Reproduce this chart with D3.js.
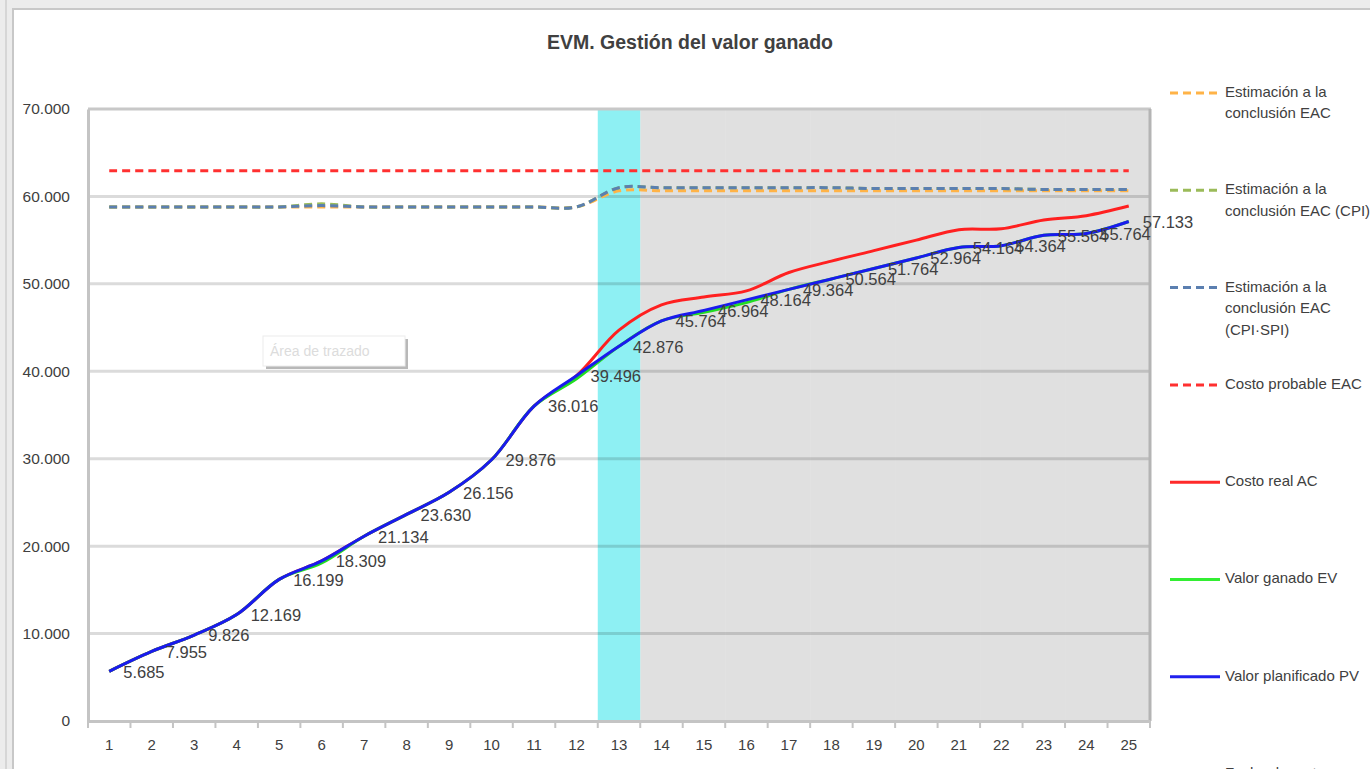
<!DOCTYPE html>
<html><head><meta charset="utf-8">
<script src="https://cdn.jsdelivr.net/npm/d3@7"></script>
<style>html,body{margin:0;padding:0;background:#f0f0f0;}svg{display:block;}</style>
</head><body><svg id="c" width="1370" height="769"></svg>
<script>
// ---------- data ----------
const categories = ["1","2","3","4","5","6","7","8","9","10","11","12","13","14","15","16","17","18","19","20","21","22","23","24","25"];
const pv  = [5685,7955,9826,12169,16199,18309,21134,23630,26156,29876,36016,39496,42876,45764,46964,48164,49364,50564,51764,52964,54164,54364,55564,55764,57133];
const ev  = [5685,7955,9826,12169,16199,18080,21134,23630,26156,29876,36016,39150,42876,45764,46750,47850,49364,50564,51764,52964,54164,54364,55564,55764,57133];
const ac  = [5685,7955,9826,12169,16199,18309,21134,23630,26156,29876,36016,39496,44700,47600,48500,49200,51300,52600,53800,55000,56200,56300,57300,57800,58900];
const eac       = [58800,58800,58800,58800,58800,58800,58800,58800,58800,58800,58800,58800,60640,60640,60640,60640,60640,60640,60640,60640,60640,60640,60640,60640,60640];
const eacCpi    = [58800,58800,58800,58800,58800,59150,58800,58800,58800,58800,58800,58800,61000,61000,61000,61000,61000,61000,60900,60900,60900,60900,60800,60800,60800];
const eacCpiSpi = [58800,58800,58800,58800,58800,58950,58800,58800,58800,58800,58800,58800,61000,61000,61000,61000,61000,61000,60900,60900,60900,60900,60800,60800,60800];
const costoProbable = [62930,62930,62930,62930,62930,62930,62930,62930,62930,62930,62930,62930,62930,62930,62930,62930,62930,62930,62930,62930,62930,62930,62930,62930,62930];
const fechaCorte = ["13"];
const proyeccion = ["14","15","16","17","18","19","20","21","22","23","24","25"];
const yTicks = [0,10000,20000,30000,40000,50000,60000,70000];
const yTickLabels = ["0","10.000","20.000","30.000","40.000","50.000","60.000","70.000"];
const title = "EVM. Gestión del valor ganado";
const legendItems = [
  {lines:["Estimación a la","conclusión EAC"], color:"#ffb347", dash:true},
  {lines:["Estimación a la","conclusión EAC (CPI)"], color:"#9bbb59", dash:true},
  {lines:["Estimación a la","conclusión EAC","(CPI·SPI)"], color:"#5b7fb0", dash:true},
  {lines:["Costo probable EAC"], color:"#ff3030", dash:true},
  {lines:["Costo real AC"], color:"#ff2a2a", dash:false},
  {lines:["Valor ganado EV"], color:"#33ee33", dash:false},
  {lines:["Valor planificado PV"], color:"#2020ee", dash:false},
  {lines:["Fecha de corte"], color:"none", dash:false}
];
const seriesDefs = [
  {values:eac, color:"#ffb347", dash:"8,5"},
  {values:eacCpi, color:"#9bbb59", dash:"8,5"},
  {values:eacCpiSpi, color:"#5b7fb0", dash:"8,5"},
  {values:costoProbable, color:"#ff3030", dash:"8,5"},
  {values:ac, color:"#ff2020", dash:null},
  {values:ev, color:"#22dd22", dash:null},
  {values:pv, color:"#1a1aee", dash:null}
];

// ---------- layout ----------
const svg = d3.select("#c");
const font = "'Liberation Sans', Arial, sans-serif";
const txt = "#404040";
const P = {l:88, r:1150, t:109, b:721};

// chart frame
svg.append("rect").attr("x",0).attr("y",0).attr("width",1370).attr("height",769).attr("fill","#ececec");
svg.append("rect").attr("x",13).attr("y",9).attr("width",1400).attr("height",800)
  .attr("fill","#fff").attr("stroke","#c8c8c8").attr("stroke-width",2);
svg.append("line").attr("x1",6).attr("x2",6).attr("y1",0).attr("y2",769).attr("stroke","#d6d6d6").attr("stroke-width",2);

const x = d3.scaleBand().domain(categories).range([P.l,P.r]).padding(0);
const xc = d => x(d) + x.bandwidth()/2;
const y = d3.scaleLinear().domain([0,70000]).range([P.b,P.t]);

// bands (column series)
svg.append("g").selectAll("rect").data(proyeccion).join("rect")
  .attr("x",d=>x(d)).attr("width",x.bandwidth()+0.5).attr("y",y(70000)).attr("height",y(0)-y(70000))
  .attr("fill","#e0e0e0");
svg.append("g").selectAll("rect").data(fechaCorte).join("rect")
  .attr("x",d=>x(d)).attr("width",x.bandwidth()).attr("y",y(70000)).attr("height",y(0)-y(70000))
  .attr("fill","#8ef0f3");

// gridlines
svg.append("g").selectAll("line").data(yTicks.slice(1,-1)).join("line")
  .attr("x1",P.l).attr("x2",P.r).attr("y1",d=>y(d)).attr("y2",d=>y(d))
  .attr("stroke","rgba(0,0,0,0.14)").attr("stroke-width",3);

// plot border: top & right
svg.append("line").attr("x1",P.l).attr("x2",P.r+1).attr("y1",P.t).attr("y2",P.t).attr("stroke","#c8c8c8").attr("stroke-width",3);
svg.append("line").attr("x1",P.r).attr("x2",P.r).attr("y1",P.t).attr("y2",P.b).attr("stroke","#b4b4b4").attr("stroke-width",3);

// y axis
const yAxis = d3.axisLeft(y).tickValues(yTicks).tickSize(0).tickPadding(18)
  .tickFormat((d,i)=>yTickLabels[i]);
const gy = svg.append("g").attr("transform",`translate(${P.l},0)`).call(yAxis);
gy.select(".domain").attr("stroke","#c4c4c4").attr("stroke-width",3);
gy.selectAll("text").attr("font-family",font).attr("font-size",15.5).attr("fill",txt);

// x axis
const xAxis = d3.axisBottom(x).tickSize(0).tickPadding(18);
const gx = svg.append("g").attr("transform",`translate(0,${P.b})`).call(xAxis);
gx.select(".domain").attr("stroke","#c4c4c4").attr("stroke-width",3);
gx.selectAll("text").attr("font-family",font).attr("font-size",15).attr("fill",txt);
// tick marks at category boundaries
svg.append("g").selectAll("line").data(categories.concat(["end"])).join("line")
  .attr("x1",d=>d==="end"?P.r:x(d)).attr("x2",d=>d==="end"?P.r:x(d))
  .attr("y1",P.b).attr("y2",P.b+7).attr("stroke","#c4c4c4").attr("stroke-width",2);

// series
const line = vals => d3.line().x((d,i)=>xc(categories[i])).y(d=>y(d)).curve(d3.curveCatmullRom.alpha(0.5))(vals);
seriesDefs.forEach(s=>{
  svg.append("path").attr("d",line(s.values)).attr("fill","none")
    .attr("stroke",s.color).attr("stroke-width",3)
    .attr("stroke-dasharray",s.dash).attr("stroke-linejoin","round");
});

// data labels (PV)
svg.append("g").selectAll("text").data(pv).join("text")
  .attr("x",(d,i)=>xc(categories[i])+14).attr("y",d=>y(d)+2)
  .attr("dominant-baseline","middle")
  .attr("font-family",font).attr("font-size",16.5).attr("fill",txt)
  .text(d=>d3.format(",")(d).replace(/,/g,"."));

// title
svg.append("text").attr("x",690).attr("y",49).attr("text-anchor","middle")
  .attr("font-family",font).attr("font-size",19.5).attr("font-weight","bold").attr("fill",txt).text(title);

// legend
const lg = svg.append("g");
legendItems.forEach((it,i)=>{
  const cy = 93 + i*97.3;
  if(it.color!=="none"){
    lg.append("line").attr("x1",1170).attr("x2",1220).attr("y1",cy).attr("y2",cy)
      .attr("stroke",it.color).attr("stroke-width",3).attr("stroke-dasharray",it.dash?"8,5":null);
  }
  it.lines.forEach((t,j)=>{
    lg.append("text").attr("x",1225).attr("y",cy+j*21.5).attr("dominant-baseline","middle")
      .attr("font-family",font).attr("font-size",15).attr("fill",txt).text(t);
  });
});

// plot-area tooltip artifact
const tt = svg.append("g");
tt.append("rect").attr("x",266).attr("y",339).attr("width",142).attr("height",30).attr("fill","#b8b8b8");
tt.append("rect").attr("x",263).attr("y",336).attr("width",142).attr("height",30).attr("fill","#fff").attr("stroke","#ececec");
tt.append("text").attr("x",270).attr("y",352).attr("dominant-baseline","middle")
  .attr("font-family",font).attr("font-size",14).attr("fill","#dcdcdc").text("Área de trazado");
</script></body></html>
